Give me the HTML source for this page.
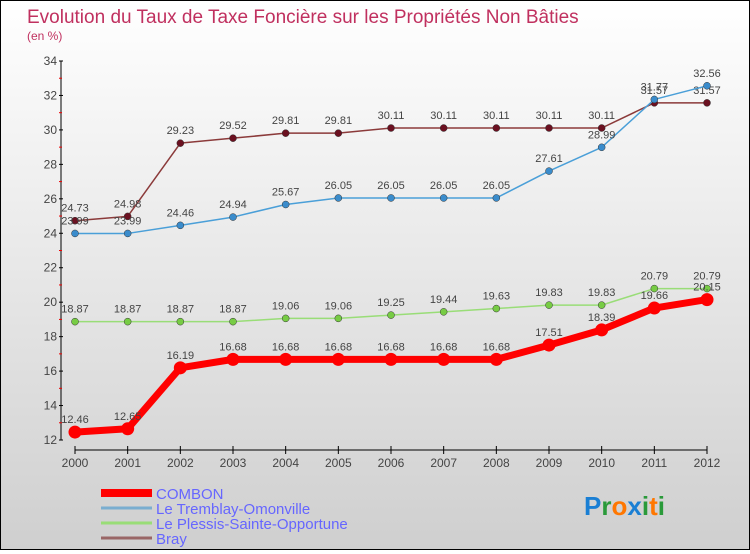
<!DOCTYPE html>
<html><head><meta charset="utf-8"><style>
html,body{margin:0;padding:0;}
body{width:750px;height:550px;overflow:hidden;font-family:"Liberation Sans",sans-serif;}
#wrap{position:relative;width:748px;height:548px;border:1px solid #000;background:linear-gradient(#ffffff,#cfcfcf);}
</style></head><body>
<div id="wrap">
<svg id="chart" width="748" height="548" xmlns="http://www.w3.org/2000/svg"></svg>
</div>
<script>
const years=[2000,2001,2002,2003,2004,2005,2006,2007,2008,2009,2010,2011,2012];
const combon=[12.46,12.65,16.19,16.68,16.68,16.68,16.68,16.68,16.68,17.51,18.39,19.66,20.15];
const tremblay=[23.99,23.99,24.46,24.94,25.67,26.05,26.05,26.05,26.05,27.61,28.99,31.77,32.56];
const plessis=[18.87,18.87,18.87,18.87,19.06,19.06,19.25,19.44,19.63,19.83,19.83,20.79,20.79];
const bray=[24.73,24.98,29.23,29.52,29.81,29.81,30.11,30.11,30.11,30.11,30.11,31.57,31.57];
const yTicks=[12,14,16,18,20,22,24,26,28,30,32,34];
const seriesNames=["COMBON","Le Tremblay-Omonville","Le Plessis-Sainte-Opportune","Bray"];

const NS="http://www.w3.org/2000/svg";
const svg=document.getElementById('chart');
const X=i=>74+i*(632/12);
const Y=v=>439-(v-12)*(379/22);
function el(t,a,p){const e=document.createElementNS(NS,t);for(const k in a)e.setAttribute(k,a[k]);(p||svg).appendChild(e);return e;}
function txt(s,a){const e=el('text',a);e.textContent=s;return e;}

let t=txt("Evolution du Taux de Taxe Foncière sur les Propriétés Non Bâties",{x:26,y:22,'font-size':19,fill:'#c0305f'});


t=txt("(en %)",{x:26,y:39,'font-size':12,fill:'#c0305f'});



// y axis
let ax=el('line',{x1:60,y1:Y(34),x2:60,y2:Y(12),stroke:'#000','stroke-width':1});


yTicks.forEach(v=>{
  el('line',{x1:58,y1:Y(v),x2:62,y2:Y(v),stroke:'#000'});
  if(v<34){let m=el('line',{x1:58,y1:Y(v+1),x2:61,y2:Y(v+1),stroke:'#e00'});}
  const l=txt(String(v),{x:56,y:Y(v)+4,'font-size':12,fill:'#444','text-anchor':'end'});
  
  
});
// x axis
ax=el('line',{x1:X(0),y1:449,x2:X(12),y2:449,stroke:'#000'});


years.forEach((y,i)=>{
  el('line',{x1:X(i),y1:445,x2:X(i),y2:453,stroke:'#000'});
  const l=txt(String(y),{x:X(i),y:466,'font-size':12,fill:'#444','text-anchor':'middle'});
  
  
});

function series(vals,color,dot,w,r,name){
  const g=el('g',{});
  
  
  el('polyline',{points:vals.map((v,i)=>X(i)+','+Y(v)).join(' '),fill:'none',stroke:color,'stroke-width':w,'stroke-linejoin':'round'},g);
  vals.forEach((v,i)=>{
    const c=el('circle',{cx:X(i),cy:Y(v),r:r,fill:dot,stroke:w>3?dot:'#333','stroke-width':w>3?0:0.5},g);
    
    
    const l=el('text',{x:X(i),y:Y(v)-9,'font-size':11,fill:'#444','text-anchor':'middle'},g);
    l.textContent=String(v);
    
    
  });
}
series(bray,'#8b3a3a','#6b1020',1.5,3.5,'bray');
series(tremblay,'#4a9fd8','#3a8ccc',1.5,3.5,'tremblay');
series(plessis,'#99dd77','#77cc44',1.5,3.5,'plessis');
series(combon,'#ff0000','#ff0000',7,6.5,'combon');

// legend
const lc=['#ff0000','#7aaed0','#99dd77','#996666'],lw=[8,3,3,3];
seriesNames.forEach((n,i)=>{
  const y=492+i*15;
  const g=el('g',{});
  
  
  el('line',{x1:100,y1:y,x2:151,y2:y,stroke:lc[i],'stroke-width':lw[i]},g);
  const l=el('text',{x:155,y:y+6,'font-size':15,fill:'#6666ff'},g);
  l.textContent=n;
});
// logo
const lg=el('text',{x:583,y:514,'font-size':26,'font-weight':'bold'});


[['P','#1a7fd4'],['r','#2a9a3a'],['o','#ff7700'],['x','#1a7fd4'],['i','#2a9a3a'],['t','#ff7700'],['i','#2a9a3a']].forEach(([c,f])=>{const s=el('tspan',{fill:f},lg);s.textContent=c;});
</script>
</body></html>
